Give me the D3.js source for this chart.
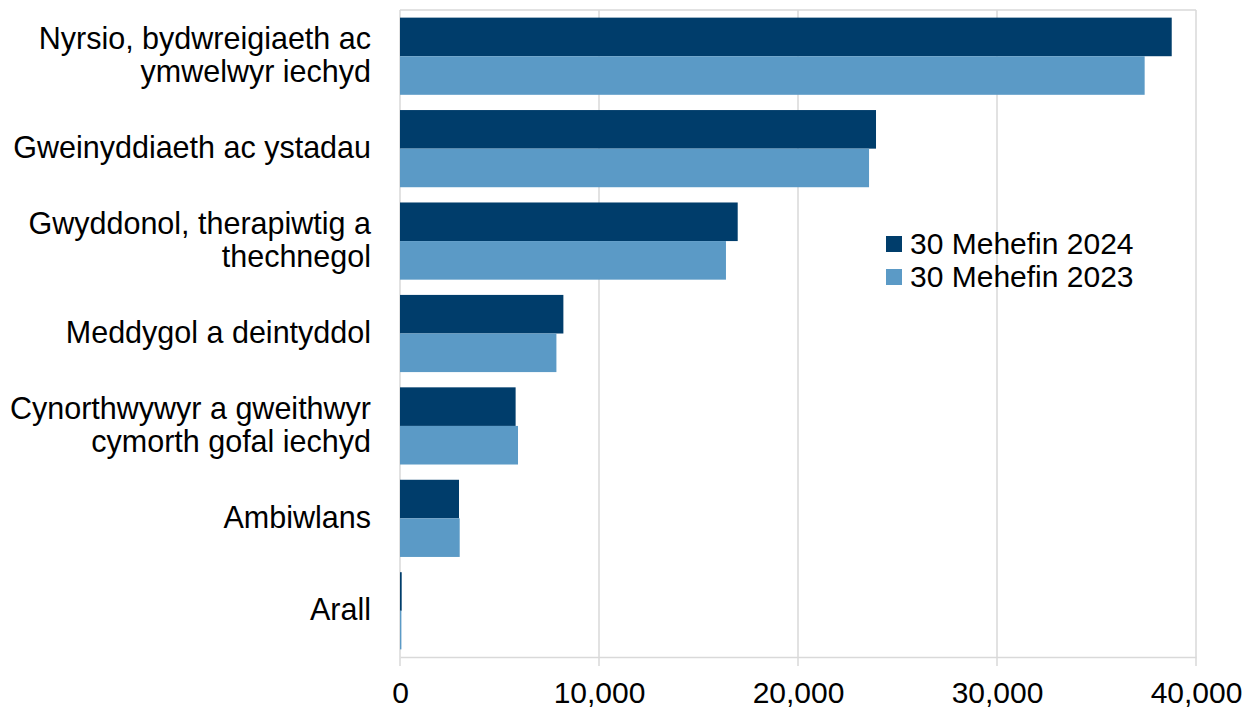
<!DOCTYPE html>
<html>
<head>
<meta charset="utf-8">
<script src="https://cdn.jsdelivr.net/npm/d3@7"></script>
<style>
  body { margin: 0; background: #fff; }
  text { font-family: "Liberation Sans", Arial, sans-serif; fill: #000; }
</style>
</head>
<body>
<div id="chart"></div>
<script>
// categories (each as lines of the label)
var categories = [
    ["Nyrsio, bydwreigiaeth ac", "ymwelwyr iechyd"],
    ["Gweinyddiaeth ac ystadau"],
    ["Gwyddonol, therapiwtig a", "thechnegol"],
    ["Meddygol a deintyddol"],
    ["Cynorthwywyr a gweithwyr", "cymorth gofal iechyd"],
    ["Ambiwlans"],
    ["Arall"]
];
var seriesNames = ["30 Mehefin 2024", "30 Mehefin 2023"];
var values2024 = [38780, 23920, 16970, 8210, 5810, 2965, 85];
var values2023 = [37420, 23570, 16380, 7860, 5930, 3000, 70];
var xTicks = [0, 10000, 20000, 30000, 40000];
var colors = ["#003d6b", "#5b9ac6"];

var fullwidth = 1254, fullheight = 708;
var margin = {top: 10, right: 58, bottom: 51, left: 400};
var width = fullwidth - margin.left - margin.right,
    height = fullheight - margin.top - margin.bottom;

var svg = d3.select("#chart").append("svg")
    .attr("width", fullwidth)
    .attr("height", fullheight)
  .append("g")
    .attr("transform", "translate(" + margin.left + "," + margin.top + ")");

var xScale = d3.scaleLinear().domain([0, 40000]).range([0, width]);
var yScale = d3.scaleBand()
    .domain(d3.range(categories.length))
    .range([0, height])
    .paddingInner(0.165)
    .paddingOuter(0.0825);
var subScale = d3.scaleBand()
    .domain([0, 1])
    .range([0, yScale.bandwidth()]);

// gridlines
svg.selectAll("line.grid")
    .data(xTicks)
    .enter()
    .append("line")
        .attr("class", "grid")
        .attr("x1", d => xScale(d))
        .attr("x2", d => xScale(d))
        .attr("y1", 0)
        .attr("y2", height + 9)
        .style("stroke", "#d9d9d9")
        .style("stroke-width", 1.5);

// top border
svg.append("line")
    .attr("x1", 0).attr("x2", width)
    .attr("y1", 0).attr("y2", 0)
    .style("stroke", "#d9d9d9")
    .style("stroke-width", 1.5);

// x axis
var xAxis = d3.axisBottom(xScale)
    .tickValues(xTicks)
    .tickFormat(d3.format(","))
    .tickSize(0)
    .tickPadding(25);
var gx = svg.append("g")
    .attr("transform", "translate(0," + height + ")")
    .call(xAxis);
gx.select(".domain").style("stroke", "#d9d9d9").style("stroke-width", 1.5);
gx.selectAll("text").style("font-size", "30px").attr("dy", "0.71em");

// bars
var series = [values2024, values2023];
series.forEach(function(vals, s) {
    svg.selectAll("rect.s" + s)
        .data(vals)
        .enter()
        .append("rect")
            .attr("class", "s" + s)
            .attr("x", 0)
            .attr("y", (d, i) => yScale(i) + subScale(s))
            .attr("width", d => xScale(d))
            .attr("height", subScale.bandwidth())
            .style("fill", colors[s]);
});

// category labels
var labels = svg.selectAll("text.cat")
    .data(categories)
    .enter()
    .append("text")
        .attr("class", "cat")
        .attr("text-anchor", "end")
        .style("font-size", "30.5px")
        .attr("transform", (d, i) => "translate(-29," + (yScale(i) + yScale.bandwidth() / 2) + ")");
labels.each(function(lines) {
    var t = d3.select(this);
    var lh = 33;
    var start = -(lines.length - 1) * lh / 2;
    lines.forEach(function(line, j) {
        t.append("tspan")
            .attr("x", 0)
            .attr("y", start + j * lh)
            .attr("dy", "0.3em")
            .text(line);
    });
});

// legend
var legend = svg.append("g")
    .attr("transform", "translate(486,226)");
seriesNames.forEach(function(name, s) {
    var g = legend.append("g").attr("transform", "translate(0," + s * 33 + ")");
    g.append("rect")
        .attr("x", 0).attr("y", 0)
        .attr("width", 16).attr("height", 16)
        .style("fill", colors[s]);
    g.append("text")
        .attr("x", 24).attr("y", 8)
        .attr("dy", "0.33em")
        .style("font-size", "30px")
        .text(name);
});
</script>
</body>
</html>
